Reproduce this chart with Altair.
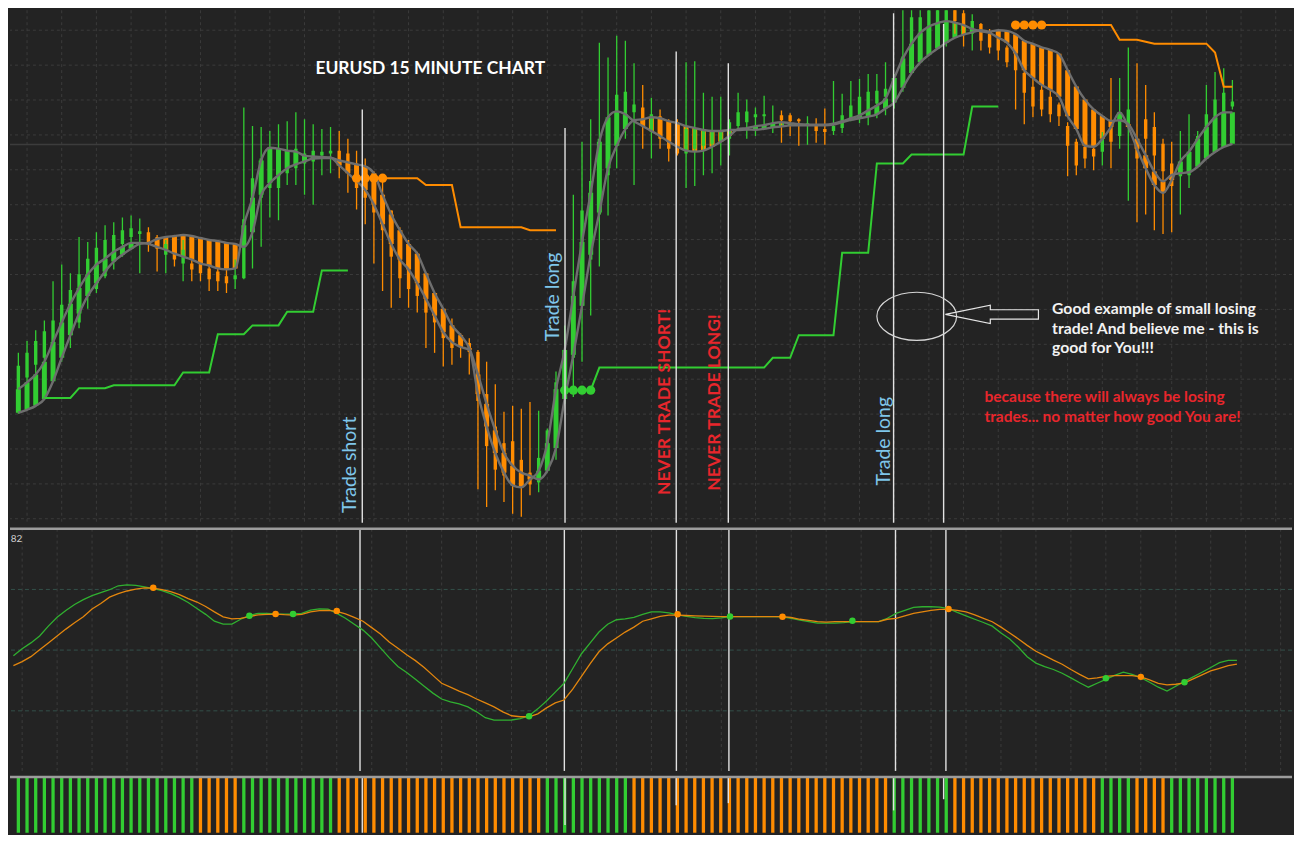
import altair as alt
import pandas as pd

# ---------------- data (price in chart points) ----------------
ha_close = [136, 143, 151, 164, 184, 204, 223, 239, 253, 263,
            269, 276, 281, 285, 285, 284, 281, 278, 274, 271,
            268, 264, 262, 259, 258, 259, 303, 331, 369, 382,
            381, 379, 378, 374, 373, 372.5, 372, 364, 356, 348,
            339, 324, 304, 284, 268, 258, 244, 228, 211, 194,
            184, 179, 176, 131, 98, 71, 51, 38, 36, 44,
            53, 81, 136, 176, 231, 286, 336, 388, 413, 419,
            416, 409, 404, 399, 394, 388, 383, 379, 378, 379,
            383, 388, 394, 401, 402, 404, 405, 407, 408, 407,
            406, 405.5, 405.5, 405.5, 406.5, 409, 412, 415, 420, 425,
            432, 453, 473, 488, 499, 505.5, 509, 511, 509.5, 507,
            503, 500.5, 499, 494, 489, 478, 461, 453, 446, 441,
            434, 414, 401, 384, 383, 391, 403, 418, 403, 381,
            361, 344, 336, 349, 368, 378, 391, 403, 413, 418,
            418]
ha_open = [112, 115, 119, 126, 144, 168, 191, 213, 231, 244,
           256, 266, 273, 279, 284, 285, 289, 291, 292, 293,
           292, 290, 288, 287, 285, 284, 281, 296, 334, 346,
           354, 361, 365, 368, 371, 371.5, 371.5, 369, 367, 365,
           363, 356, 334, 314, 298, 284, 274, 254, 234, 218,
           201, 191, 178, 151, 121, 94, 71, 58, 51, 48,
           44, 53, 76, 126, 171, 221, 273, 316, 361, 384,
           401, 410, 411, 413, 412, 409, 407, 404, 402, 400,
           399, 399, 400, 400, 400.5, 400.3, 401.3, 402.7, 403.7, 404.7,
           404.7, 404.8, 404.8, 404.8, 405.5, 408, 410.3, 412, 413.7, 416,
           422, 428, 443, 458, 469, 476.5, 483, 489, 494, 497.3,
           499.5, 501.7, 500.3, 501.7, 501, 497.7, 491, 487.7, 484.3, 481.7,
           477.7, 461, 444.3, 431, 421, 414.3, 409.3, 410, 406, 391,
           374.3, 357.7, 347.7, 354.3, 356, 357, 362.7, 371, 377.7, 382.7,
           386]
high = [173, 185, 196, 206, 246, 263, 254, 291, 286, 296,
        303, 306, 311, 313, 310, 301, 293, 288, 291, 288,
        291, 281, 274, 268, 264, 268, 423, 404, 403, 399,
        406, 409, 418, 411, 406, 401, 403, 399, 391, 379,
        371, 358, 348, 318, 301, 288, 276, 254, 234, 218,
        208, 193, 188, 176, 164, 141, 113, 119, 116, 123,
        114, 96, 154, 201, 334, 388, 411, 489, 474, 496,
        491, 468, 446, 433, 421, 411, 411, 469, 470, 438,
        434, 434, 411, 438, 431, 423, 435, 425, 420, 417,
        412, 414, 412, 422, 450, 437, 450, 452, 457, 457,
        469, 457, 526, 526, 526, 526, 526, 526, 526, 526,
        518, 509, 503, 501, 486, 481, 464, 454, 448, 444,
        428, 408, 391, 384, 384, 398, 453, 453, 484, 468,
        446, 418, 391, 388, 399, 416, 399, 446, 459, 463,
        451]
low = [111, 118, 121, 126, 144, 164, 178, 198, 218, 234,
       249, 258, 271, 278, 254, 276, 256, 254, 261, 246,
       246, 246, 236, 236, 234, 238, 248, 259, 281, 311,
       308, 344, 344, 334, 324, 354, 356, 351, 336, 319,
       304, 264, 236, 219, 229, 219, 214, 178, 173, 159,
       161, 168, 151, 34, 16, 33, 21, 9, 6, 28,
       31, 51, 64, 121, 128, 164, 211, 261, 313, 361,
       391, 344, 381, 371, 381, 368, 374, 341, 343, 354,
       356, 364, 374, 401, 391, 394, 402, 397, 387, 394,
       384, 385, 387, 385, 395, 397, 409, 407, 405, 412,
       415, 422, 439, 462, 492, 479, 498, 485, 498, 485,
       481, 481, 478, 471, 464, 421, 406, 413, 414, 408,
       404, 353, 354, 361, 359, 364, 361, 381, 328, 306,
       314, 298, 294, 296, 314, 341, 361, 371, 384, 414,
       421]
open_ = [134, 148, 161, 168, 164, 191, 204, 204, 231, 238,
         251, 268, 284, 291, 294, 296, 291, 273, 284, 264,
         264, 266, 259, 256, 251, 248, 249, 316, 331, 341,
         341, 356, 361, 366, 368, 374, 376, 379, 376, 366,
         361, 354, 334, 318, 294, 284, 274, 251, 231, 211,
         201, 191, 183, 174, 131, 98, 81, 83, 64, 51,
         41, 64, 98, 134, 168, 221, 268, 314, 354, 394,
         401, 418, 423, 398, 414, 408, 408, 376, 381, 384,
         386, 388, 391, 404, 408, 413, 414, 404, 415, 415,
         411, 404, 404, 401, 399, 402, 410, 415, 417, 427,
         434, 435, 449, 482, 495, 499, 501, 506, 524, 519,
         498, 508, 498, 494, 484, 478, 458, 444, 441, 434,
         426, 404, 388, 383, 381, 378, 408, 394, 404, 391,
         411, 403, 386, 366, 353, 354, 364, 398, 404, 418,
         424]
close = [160, 173, 185, 195, 206, 222, 237, 253, 269, 280,
         288, 293, 298, 300, 297, 286, 279, 284, 268, 278,
         258, 254, 248, 246, 244, 252, 309, 351, 371, 381,
         379, 379, 381, 376, 379, 378, 379, 368, 358, 341,
         331, 316, 298, 271, 249, 238, 231, 214, 204, 188,
         178, 183, 174, 124, 78, 54, 48, 38, 38, 39,
         66, 94, 143, 173, 246, 318, 348, 391, 411, 436,
         439, 426, 404, 416, 391, 381, 376, 401, 401, 401,
         398, 398, 408, 418, 419, 416, 416, 407, 410, 409,
         409, 407, 399, 398, 404, 415, 425, 434, 439, 440,
         442, 450, 475, 515, 515, 522, 526, 526, 511, 497,
         511, 491, 484, 481, 469, 461, 438, 424, 421, 416,
         414, 384, 364, 371, 373, 391, 388, 418, 421, 371,
         391, 374, 358, 343, 364, 378, 394, 416, 431, 438,
         429]

# oscillator (fast = green, slow = orange)
osc_fast = [117, 124, 130, 137, 147, 156, 163, 169, 174, 178,
            181, 184, 188, 189, 188.5, 187, 185, 183, 180, 176,
            171, 165, 159, 152, 149, 149, 154, 158, 160, 160,
            159.5, 159.3, 159.5, 160, 163.3, 164.6, 164.4, 160, 155, 149,
            143, 135, 125, 115, 106, 100, 93, 86, 79, 73,
            70, 68, 65, 60, 54, 51.5, 51.5, 51.7, 53, 56,
            63, 71, 80, 89, 104, 119, 130, 141, 149, 153.5,
            154.5, 156, 159, 161.5, 161.5, 160.5, 158.5, 157, 155.6, 154.8,
            154.7, 155.5, 156.7, 156.7, 156.7, 156.7, 156.7, 156.7, 156.5, 155,
            153.2, 151.5, 150, 150, 150, 150.5, 151.5, 151.7, 151.7, 151.7,
            155, 160, 163, 166, 166.7, 166.7, 166.4, 164.8, 161, 157.5,
            154, 150.7, 147, 140, 134, 125.5, 116, 109.5, 106, 103,
            99.2, 94.5, 89.5, 85, 89, 93, 97, 100.3, 98, 94.7,
            90, 85, 81, 86, 91, 95.5, 100.2, 105, 110, 112.3,
            112.3]
osc_slow = [107, 111, 116, 123, 130, 137, 144, 150.5, 156.5, 164.5,
            170, 176.5, 180, 182.7, 184.5, 185.8, 185.6, 184, 182, 179,
            175, 171.5, 167, 161.5, 156.5, 154.4, 154.8, 156.7, 158.5, 159,
            159.3, 158.7, 158.3, 159, 161.5, 162.7, 163, 162, 159.5, 156,
            152, 145.5, 139, 131, 124.5, 118, 112, 105, 97, 89,
            85, 81, 77.5, 73, 69, 65, 60, 56, 55, 55,
            58, 64, 69, 72, 83, 96, 109, 121, 129, 135,
            141, 146, 152, 154.5, 157, 158.2, 158.2, 157.8, 157.5, 157.2,
            157, 156.7, 156.7, 156.7, 156.7, 156.7, 156.7, 156.7, 156.7, 155.8,
            154, 152.8, 151.6, 151, 151.5, 151.5, 151.5, 151.5, 151.5, 151.5,
            154, 155, 157.5, 160, 161.5, 163, 164, 164, 163, 161.5,
            158.5, 155, 151.5, 146, 140, 134, 127.5, 121.5, 117, 112.5,
            108.3, 103, 98, 93.5, 94.5, 96, 96.7, 96.7, 96.7, 95.5,
            92.5, 89, 87.3, 88, 89.5, 93.5, 97.5, 101.5, 104.2, 107,
            108.5]
osc_cross_bars = [16, 27, 30, 32, 37, 59, 76, 82, 88, 96, 107, 125, 129, 134]
osc_cross_level = [186, 157.5, 159.4, 159.4, 162.5, 55.5, 159, 156.7, 156.6, 152.5, 164.5, 94, 95.5, 90]
osc_cross_dir = ["down", "up", "down", "up", "down", "up", "down", "up", "down", "up", "down", "up", "down", "up"]

# bottom trend strip
strip_dir = (["up"] * 21 + ["down"] * 5 + ["up"] * 11 + ["down"] * 24 + ["up"] * 10 +
             ["down"] * 30 + ["up"] * 7 + ["down"] * 17 + ["up"] * 4 + ["down"] * 4 + ["up"] * 8)

# trailing stops
stop_green_a_bars = list(range(3, 39))
stop_green_a = [127, 127, 127, 127, 137, 137, 137, 137, 140, 140, 140, 140, 140, 140, 140, 140,
                153, 153, 153, 153, 192, 192, 192, 192, 201, 201, 201, 201, 215, 215, 215, 215,
                257, 257, 257, 257]
stop_orange_a_bars = list(range(39, 63))
stop_orange_a = [351] * 8 + [344] * 4 + [301] * 8 + [298] * 4
stop_green_b_bars = list(range(63, 114))
stop_green_b = [135] * 4 + [158] * 20 + [168] * 3 + [191] * 5 + [275] * 4 + [366] * 4 + [375] * 7 + [424] * 4
stop_orange_b_bars = list(range(115, 141))
stop_orange_b = [507] * 12 + [492] * 3 + [490] + [488] * 7 + [479] + [444] * 2
entry_dot_bars = {"orange_a": [39, 40, 41, 42], "green_b": [63, 64, 65, 66], "orange_b": [115, 116, 117, 118]}

# marked trade lines (bar position, top level in price panel, end level in strip)
trade_line_bars = [39.66, 63.04, 75.86, 81.87, 100.93, 106.7]
trade_line_top = [421, 402, 480, 468, 519, 508]
trade_line_strip_end = [0, 0.14, 0.49, 0.53, 0.40, 0.60]

grid_bars = list(range(1, 147, 4))
grid_levels_main = [501.7, 466.1, 430.6, 395, 359.5, 323.9, 288.4, 252.8, 217.3, 181.7, 146.2, 110.6, 75.1, 39.5, 4]
grid_levels_osc = [184.3, 122.7, 61]
last_price = 385.3

# ---------------- styling ----------------
GREEN = "#32cd32"
ORANGE = "#ff8c00"
BG = "#232323"
BLUE = "#7fc6ea"
RED = "#e8262c"
FONT = "Lato"
W = 1286
H_MAIN, H_OSC, H_STRIP = 514, 243, 56

N = len(ha_close)
dir_col = {"up": GREEN, "down": ORANGE}
df = pd.DataFrame({
    "bar": list(range(N)), "ha_close": ha_close, "ha_open": ha_open,
    "high": high, "low": low, "open": open_, "close": close,
    "osc_fast": osc_fast, "osc_slow": osc_slow, "strip": strip_dir,
})
df["ha_col"] = [GREEN if c >= o else ORANGE for c, o in zip(df.ha_close, df.ha_open)]
df["c_col"] = [GREEN if c >= o else ORANGE for c, o in zip(df.close, df.open)]
df["s_col"] = [dir_col[d] for d in df.strip]
df["lo"] = 0
df["hi"] = 1

xs = alt.Scale(domain=[-0.39, 146.3], nice=False, zero=False)
ys_main = alt.Scale(domain=[0, 522], nice=False, zero=False)
ys_osc = alt.Scale(domain=[0, 246], nice=False, zero=False)
ys_strip = alt.Scale(domain=[0, 1], nice=False, zero=False)


def X(f="bar"):
    return alt.X(f"{f}:Q", scale=xs, axis=None)


def Y(f, s):
    return alt.Y(f"{f}:Q", scale=s, axis=None)


def COL(f):
    return alt.Color(f"{f}:N", scale=None, legend=None)


base = alt.Chart(df)
grid_v = alt.Chart(pd.DataFrame({"bar": grid_bars})).mark_rule(
    color="#3b3b3b", strokeDash=[3, 3], strokeWidth=1).encode(x=X())

# ---- main price panel ----
grid_h = alt.Chart(pd.DataFrame({"level": grid_levels_main})).mark_rule(
    color="#3b3b3b", strokeDash=[3, 3], strokeWidth=1).encode(y=Y("level", ys_main))
price_line = alt.Chart(pd.DataFrame({"level": [last_price]})).mark_rule(
    color="#3c3c3c", strokeWidth=1.6).encode(y=Y("level", ys_main))
fills = base.mark_bar(size=5, clip=True).encode(
    x=X(), y=Y("ha_open", ys_main), y2="ha_close:Q", color=COL("ha_col"))
wicks = base.mark_rule(strokeWidth=1.3, clip=True).encode(
    x=X(), y=Y("low", ys_main), y2="high:Q", color=COL("c_col"))
bodies = base.mark_bar(size=3.4, clip=True).encode(
    x=X(), y=Y("open", ys_main), y2="close:Q", color=COL("c_col"))
ma_close = base.mark_line(color="#6e6e6e", strokeWidth=2.4, interpolate="monotone", clip=True).encode(
    x=X(), y=Y("ha_close", ys_main))
ma_open = base.mark_line(color="#6e6e6e", strokeWidth=2.4, interpolate="monotone", clip=True).encode(
    x=X(), y=Y("ha_open", ys_main))

stops = pd.concat([
    pd.DataFrame({"bar": stop_green_a_bars, "level": stop_green_a, "series": "green_a", "col": GREEN}),
    pd.DataFrame({"bar": stop_orange_a_bars, "level": stop_orange_a, "series": "orange_a", "col": ORANGE}),
    pd.DataFrame({"bar": stop_green_b_bars, "level": stop_green_b, "series": "green_b", "col": GREEN}),
    pd.DataFrame({"bar": stop_orange_b_bars, "level": stop_orange_b, "series": "orange_b", "col": ORANGE}),
])
stop_lines = alt.Chart(stops).mark_line(strokeWidth=2).encode(
    x=X(), y=Y("level", ys_main), color=COL("col"), detail="series:N")
dots = stops[[(s in entry_dot_bars and b in entry_dot_bars[s]) for s, b in zip(stops.series, stops.bar)]]
stop_dots = alt.Chart(dots).mark_circle(size=85, opacity=1).encode(
    x=X(), y=Y("level", ys_main), color=COL("col"))

tl = pd.DataFrame({"bar": trade_line_bars, "top": trade_line_top, "bottom": 0,
                   "s_end": trade_line_strip_end, "s_top": 1})
trade_main = alt.Chart(tl).mark_rule(color="#e2e2e2", strokeWidth=1.4).encode(
    x=X(), y=Y("top", ys_main), y2="bottom:Q")


def label(x, y, text, color, size, weight="normal", angle=0, align="center"):
    return alt.Chart(pd.DataFrame({"bar": [x], "level": [y], "t": [text]})).mark_text(
        color=color, fontSize=size, fontWeight=weight, angle=angle, align=align,
        baseline="middle", font=FONT).encode(x=X(), y=Y("level", ys_main), text="t:N")


texts = [
    label(47.5, 462, "EURUSD 15 MINUTE CHART", "#ffffff", 17.5, "bold"),
    label(38.3, 59, "Trade short", BLUE, 19.5, angle=270),
    label(61.7, 230, "Trade long", BLUE, 19.5, angle=270),
    label(74.6, 123, "NEVER TRADE SHORT!", RED, 17.6, "bold", angle=270),
    label(80.3, 122.5, "NEVER TRADE LONG!", RED, 17.6, "bold", angle=270),
    label(99.8, 83, "Trade long", BLUE, 19.5, angle=270),
    label(119.2, 217.7, "Good example of small losing", "#f2f2f2", 15.8, "bold", align="left"),
    label(119.2, 197.7, "trade! And believe me -  this is", "#f2f2f2", 15.8, "bold", align="left"),
    label(119.2, 178.3, "good for You!!!", "#f2f2f2", 15.8, "bold", align="left"),
    label(111.4, 127.7, "because there will always be losing", RED, 15.6, "bold", align="left"),
    label(111.4, 107.7, "trades... no matter how good You are!", RED, 15.6, "bold", align="left"),
]

ELLIPSE = ("M -1 0 C -1 -0.334 -0.552 -0.604 0 -0.604 C 0.552 -0.604 1 -0.334 1 0 "
           "C 1 0.334 0.552 0.604 0 0.604 C -0.552 0.604 -1 0.334 -1 0 Z")
ARROW = "M -1 0 L -0.035 -0.197 L -0.035 -0.1 L 1 -0.1 L 1 0.1 L -0.035 0.1 L -0.035 0.197 Z"
ellipse = alt.Chart(pd.DataFrame({"bar": [103.6], "level": [210.2]})).mark_point(
    shape=ELLIPSE, size=6400, filled=False, color="#d6d6d6", strokeWidth=1.2, opacity=1).encode(
    x=X(), y=Y("level", ys_main))
arrow = alt.Chart(pd.DataFrame({"bar": [112.27], "level": [212.2]})).mark_point(
    shape=ARROW, size=8705, filled=False, color="#e6e6e6", strokeWidth=1.2, opacity=1).encode(
    x=X(), y=Y("level", ys_main))

main = alt.layer(grid_v, grid_h, price_line, fills, wicks, bodies, ma_close, ma_open,
                 stop_lines, stop_dots, trade_main, ellipse, arrow, *texts).properties(
    width=W, height=H_MAIN)

# ---- oscillator panel ----
grid_h_osc = alt.Chart(pd.DataFrame({"level": grid_levels_osc})).mark_rule(
    color="#33504a", strokeDash=[4, 3], strokeWidth=1).encode(y=Y("level", ys_osc))
trade_osc = alt.Chart(tl).mark_rule(color="#e2e2e2", strokeWidth=1.4).encode(x=X())
fast_line = base.mark_line(color="#30b030", strokeWidth=1.3).encode(x=X(), y=Y("osc_fast", ys_osc))
slow_line = base.mark_line(color="#e3860e", strokeWidth=1.3).encode(x=X(), y=Y("osc_slow", ys_osc))
cross = pd.DataFrame({"bar": osc_cross_bars, "level": osc_cross_level,
                      "col": [dir_col[d] for d in osc_cross_dir]})
cross_dots = alt.Chart(cross).mark_circle(size=42, opacity=1).encode(
    x=X(), y=Y("level", ys_osc), color=COL("col"))
osc_label = alt.Chart(pd.DataFrame({"bar": [-0.3], "level": [236], "t": ["82"]})).mark_text(
    color="#cfcfcf", fontSize=10, align="left", baseline="middle", font=FONT).encode(
    x=X(), y=Y("level", ys_osc), text="t:N")
sep_osc = alt.Chart(pd.DataFrame({"level": [246]})).mark_rule(
    color="#9c9c9c", strokeWidth=2.5).encode(y=Y("level", ys_osc))
osc = alt.layer(grid_v, grid_h_osc, trade_osc, fast_line, slow_line, cross_dots,
                osc_label, sep_osc).properties(width=W, height=H_OSC)

# ---- trend strip ----
strip_bars = base.mark_bar(size=3.3).encode(
    x=X(), y=Y("lo", ys_strip), y2="hi:Q", color=COL("s_col"))
trade_strip = alt.Chart(tl).mark_rule(color="#e2e2e2", strokeWidth=1.4).encode(
    x=X(), y=Y("s_top", ys_strip), y2="s_end:Q")
sep_strip = alt.Chart(pd.DataFrame({"level": [1]})).mark_rule(
    color="#9c9c9c", strokeWidth=2.5).encode(y=Y("level", ys_strip))
strip = alt.layer(strip_bars, trade_strip, sep_strip).properties(width=W, height=H_STRIP)

chart = alt.vconcat(main, osc, strip, spacing=3).properties(
    background=BG, padding=0).configure_view(strokeWidth=0)

chart.save("out.html", embed_options={"renderer": "svg", "actions": False})
